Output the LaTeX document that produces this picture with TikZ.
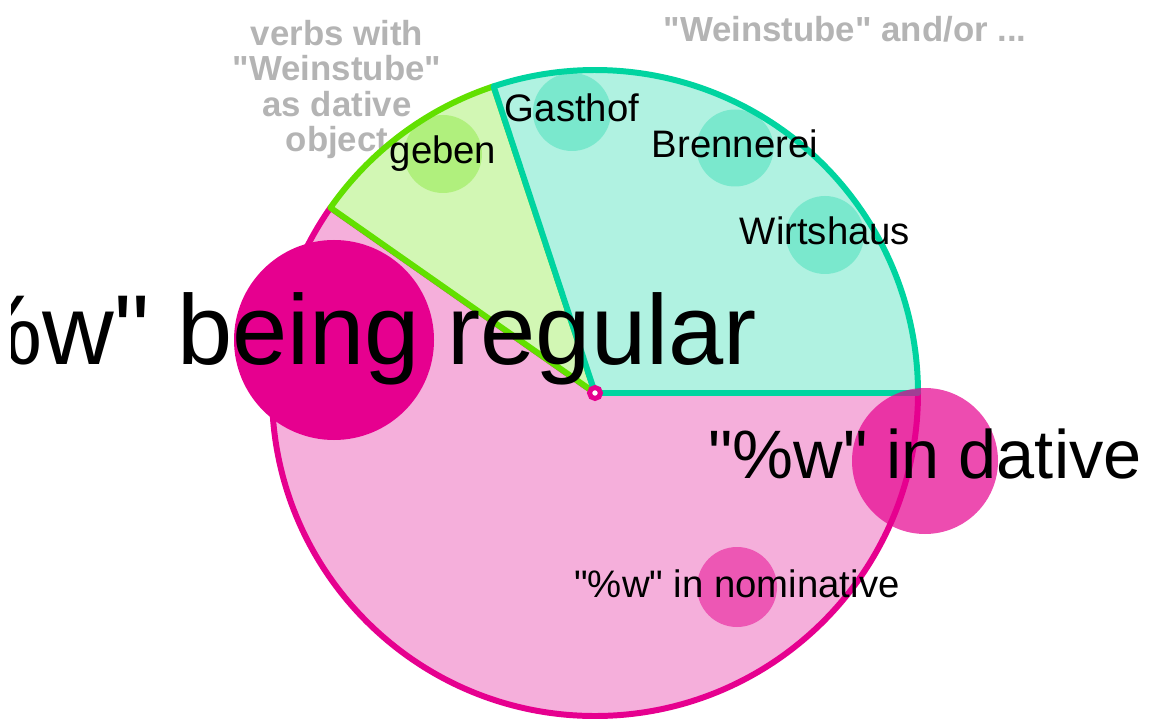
\documentclass[tikz,border=0pt]{standalone}
\usepackage{fontspec}
\setmainfont{Liberation Sans}[Ligatures=TeXOff]
\definecolor{pinkline}{HTML}{E6008F}
\definecolor{pinkfill}{HTML}{F5AFDB}
\definecolor{tealline}{HTML}{00D4A0}
\definecolor{tealfill}{HTML}{B0F2E1}
\definecolor{greenline}{HTML}{62E000}
\definecolor{greenfill}{HTML}{D2F7B4}
\definecolor{setgray}{HTML}{B4B4B4}
\begin{document}
\begin{tikzpicture}[
    sector/.style={line width=3.4pt, line join=round},
    bubble/.style={circle, inner sep=0pt, minimum size=#1},
    word/.style={anchor=base, inner sep=0pt, yshift=-0.2cm, font=\fontsize{21.8pt}{24pt}\selectfont},
    setlabel/.style={text=setgray, inner sep=0pt, align=center, font=\fontsize{19.8pt}{20.1pt}\selectfont\bfseries}
  ]
        % page frame
        \useasboundingbox (0,0) rectangle (23.1,14.4);
        \clip (0,0) rectangle (23.1,14.4);
        % set labels behind the pie
        \node[setlabel] (verbslabel) at (6.74,12.61) {verbs with\\"Weinstube"\\as dative\\object};
        \node[setlabel, anchor=base] (weinlabel) at (16.9,13.56) {"Weinstube" and/or ...};
        % the three slices
        \coordinate (C) at (11.9,6.54);
        \filldraw[sector, draw=pinkline, fill=pinkfill] (C) -- ++(0:6.46) arc[start angle=0, end angle=-215, radius=6.46] -- cycle;
        \filldraw[sector, draw=greenline, fill=greenfill] (C) -- ++(108.3:6.46) arc[start angle=108.3, end angle=145, radius=6.46] -- cycle;
        \filldraw[sector, draw=tealline, fill=tealfill] (C) -- ++(0:6.46) arc[start angle=0, end angle=108.3, radius=6.46] -- cycle;
        \filldraw[draw=pinkline, fill=white, line width=2.8pt] (C) circle (0.11);
        % bubbles
        \node[bubble=4cm, fill=pinkline] (regular) at (6.68,7.60) {};
        \node[bubble=2.92cm, fill=pinkline, fill opacity=0.7] (dative) at (18.5,5.18) {};
        \node[bubble=1.6cm, fill=pinkline, fill opacity=0.5] (nominative) at (14.74,2.66) {};
        \node[bubble=1.56cm, fill=greenline, fill opacity=0.3] (geben) at (8.86,11.32) {};
        \node[bubble=1.56cm, fill=tealline, fill opacity=0.3] (gasthof) at (11.44,12.16) {};
        \node[bubble=1.54cm, fill=tealline, fill opacity=0.3] (brennerei) at (14.7,11.44) {};
        \node[bubble=1.56cm, fill=tealline, fill opacity=0.3] (wirtshaus) at (16.5,9.7) {};
        % words
        \node[word] (gebentext) at (geben) {geben};
        \node[word] (gasthoftext) at (gasthof) {Gasthof};
        \node[word] (brennereitext) at (brennerei) {Brennerei};
        \node[word] (wirtshaustext) at (wirtshaus) {Wirtshaus};
        \node[word] (nominativetext) at (nominative) {"\%w" in nominative};
        \node[anchor=base, inner sep=0pt, yshift=-0.35cm, font=\fontsize{39pt}{42pt}\selectfont] (dativetext) at (dative) {"\%w" in dative};
        \begin{scope}
          \clip (0.22,0) rectangle (23.1,14.4);
          \node[anchor=base, inner sep=0pt, xshift=0.08cm, yshift=-0.5cm, font=\fontsize{56.5pt}{60pt}\selectfont] (regulartext) at (regular) {"\%w" being regular};
        \end{scope}
    \end{tikzpicture}
\end{document}
